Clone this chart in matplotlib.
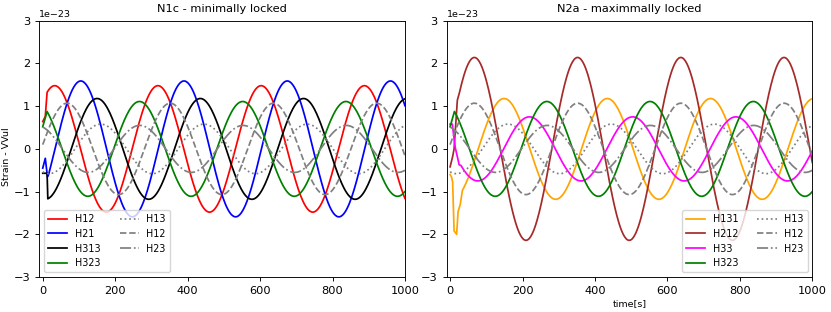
import numpy as np
import matplotlib
matplotlib.use("Agg")
import matplotlib.pyplot as plt

plt.rcParams['font.size'] = 8.2
plt.rcParams['lines.linewidth'] = 1.25
plt.rcParams['axes.linewidth'] = 0.66
plt.rcParams['xtick.major.size'] = 2.9
plt.rcParams['ytick.major.size'] = 2.9
plt.rcParams['xtick.major.width'] = 0.66
plt.rcParams['ytick.major.width'] = 0.66

# values, strain in units of 1e-23
period = 285.0
t = np.arange(0, 1001, 2.0)

# reference (gray) waves, same in both panels
ref_labels = ['H13', 'H12', 'H23']
ref_styles = [':', '--', '-.']
ref_amp = [0.58, 1.07, 0.55]
ref_peak = [160, 67, 268]

# left panel: N1c
left_labels = ['H12', 'H21', 'H313', 'H323']
left_colors = ['red', 'blue', 'black', 'green']
left_amp = [1.48, 1.59, 1.18, 1.11]
left_peak = [33, 105, 150, 267]
left_start_t = [[0, 7], [0, 7, 13], [0, 12], [0]]
left_start_v = [[0.64, 0.76], [-0.45, -0.22, -0.65], [-0.57, -0.57], [0.52]]
left_steady_from = [12, 15, 14, 12]

# right panel: N2a
right_labels = ['H131', 'H212', 'H33', 'H323']
right_colors = ['orange', 'brown', 'magenta', 'green']
right_amp = [1.18, 2.14, 0.75, 1.11]
right_peak = [149, 67, 219, 267]
right_start_t = [[0, 4, 7, 11, 18, 22, 28], [0, 7, 11, 20], [0, 6, 14, 25], [0]]
right_start_v = [[-0.6, -0.66, -0.78, -1.92, -2.0, -1.47, -1.3],
                 [-0.42, -0.18, 0.0, 1.14],
                 [0.58, 0.58, 0.04, -0.37],
                 [0.52]]
right_steady_from = [34, 26, 30, 12]


def wave(amp, peak, t0=0):
    tt = t[t >= t0]
    return tt, amp * np.cos(2 * np.pi * (tt - peak) / period)


def series(st, sv, amp, peak, t0):
    tt, vv = wave(amp, peak, t0)
    return np.concatenate([st, tt]), np.concatenate([sv, vv]) * 1e-23


fig = plt.figure(figsize=(8.31, 3.12), dpi=100)
ax1 = fig.add_axes([0.0473, 0.112, 0.44, 0.8215])
ax2 = fig.add_axes([0.5375, 0.112, 0.44, 0.8215])

panels = [
    (ax1, left_labels, left_colors, left_amp, left_peak, left_start_t, left_start_v, left_steady_from),
    (ax2, right_labels, right_colors, right_amp, right_peak, right_start_t, right_start_v, right_steady_from),
]

for ax, labels, colors, amps, peaks, st, sv, t0s in panels:
    for i in range(len(labels)):
        x, y = series(st[i], sv[i], amps[i], peaks[i], t0s[i])
        ax.plot(x, y, color=colors[i], label=labels[i])
    for i in range(len(ref_labels)):
        x, y = wave(ref_amp[i], ref_peak[i])
        ax.plot(x, y * 1e-23, color='gray', ls=ref_styles[i], label=ref_labels[i])
    ax.set_xlim(-9.5, 1000)
    ax.set_ylim(-3e-23, 3e-23)
    ax.set_xticks([0, 200, 400, 600, 800, 1000])
    ax.yaxis.get_offset_text().set_fontsize(6.8)

ax1.set_title('N1c - minimally locked', fontsize=8.2)
ax1.set_ylabel('Strain - VVul', fontsize=6.8)
ax1.yaxis.set_label_coords(-0.077, 0.47)
ax1.legend(loc='lower left', ncol=2, fontsize=6.9)

ax2.set_title('N2a - maximmally locked', fontsize=8.2)
ax2.set_xlabel('time[s]', fontsize=6.8, labelpad=2)
ax2.legend(loc='lower right', ncol=2, fontsize=6.9)

fig.savefig('out.png', dpi=100)
